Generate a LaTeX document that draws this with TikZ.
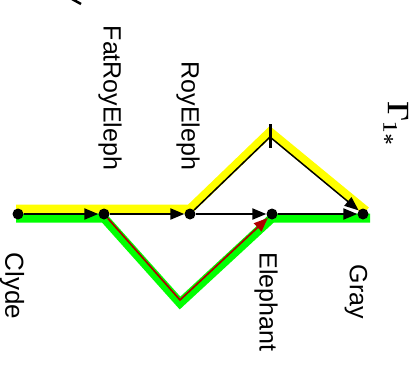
\RequirePackage{fix-cm}
\documentclass[tikz,border=0pt]{standalone}
\usepackage[no-math]{fontspec}
\setmainfont{Liberation Sans}
\usetikzlibrary{arrows.meta}
\definecolor{hlyellow}{RGB}{255,255,0}
\definecolor{hlgreen}{RGB}{0,255,0}
\definecolor{darkred}{RGB}{175,0,0}
\begin{document}
\begin{tikzpicture}[x=1pt,y=-1pt,
  dot/.style={circle,fill=black,inner sep=0pt,minimum size=11pt},
  lbl/.style={rotate=-90,inner sep=0pt,font=\fontsize{25}{30}\selectfont},
  tip/.style={-{Triangle[length=14pt,width=11pt]}},
  edgearrow/.style={line width=2.2pt,tip},
  diagline/.style={line width=1.5pt},
  hiyel/.style={draw=hlyellow,line width=9pt},
  higrn/.style={draw=hlgreen,line width=9pt},
]
\useasboundingbox (0,0) rectangle (420,365);
% positions
\coordinate (pc) at (18,214);
\coordinate (pf) at (104,214);
\coordinate (pr) at (190,214);
\coordinate (pe) at (272,214);
\coordinate (pg) at (363,214);
\coordinate (apex) at (270,137);
\coordinate (gv) at (180,303);
\coordinate (rv) at (180,300);
% highlights
\draw[hiyel] ([shift={(-2pt,5pt)}]pc) -- ([yshift=5pt]pr) -- ([yshift=5pt]apex) -- ([shift={(3pt,3pt)}]pg);
\draw[higrn] ([shift={(-2pt,-4pt)}]pc) -- ([yshift=-4pt]pf) -- (gv) -- ([yshift=-4pt]pe) -- ([shift={(7pt,-4pt)}]pg);
% nodes
\node[dot] (clyde) at (pc) {};
\node[dot] (fat) at (pf) {};
\node[dot] (roy) at (pr) {};
\node[dot] (eleph) at (pe) {};
\node[dot] (gray) at (pg) {};
% edges
\draw[edgearrow] (clyde) -- (fat);
\draw[edgearrow] (fat) -- (roy);
\draw[edgearrow] (roy) -- (eleph);
\draw[edgearrow] (eleph) -- (gray);
\draw[diagline] (roy) -- (apex);
\draw[diagline,tip] (apex) -- (gray);
\draw[line width=3pt] ([yshift=13pt]apex) -- ([yshift=-11pt]apex);
\draw[darkred,line width=1.7pt,tip] (fat) -- (rv) -- (eleph);
% labels
\node[lbl,font=\fontsize{26}{30}\selectfont] (lclyde) at (12,286) {Clyde};
\node[lbl] (lfat) at (110,98) {FatRoyEleph};
\node[lbl] (lroy) at (188,116) {RoyEleph};
\node[lbl] (leleph) at (266,302) {Elephant};
\node[lbl] (lgray) at (356,292) {Gray};
\node[rotate=-90,inner sep=0pt,font=\fontsize{30}{36}\selectfont\boldmath] (title) at (396,124) {$\Gamma_{1*}$};
% cut-off mark at top edge
\draw[line width=2.5pt] (72,-1) -- (81,4);
\end{tikzpicture}
\end{document}
